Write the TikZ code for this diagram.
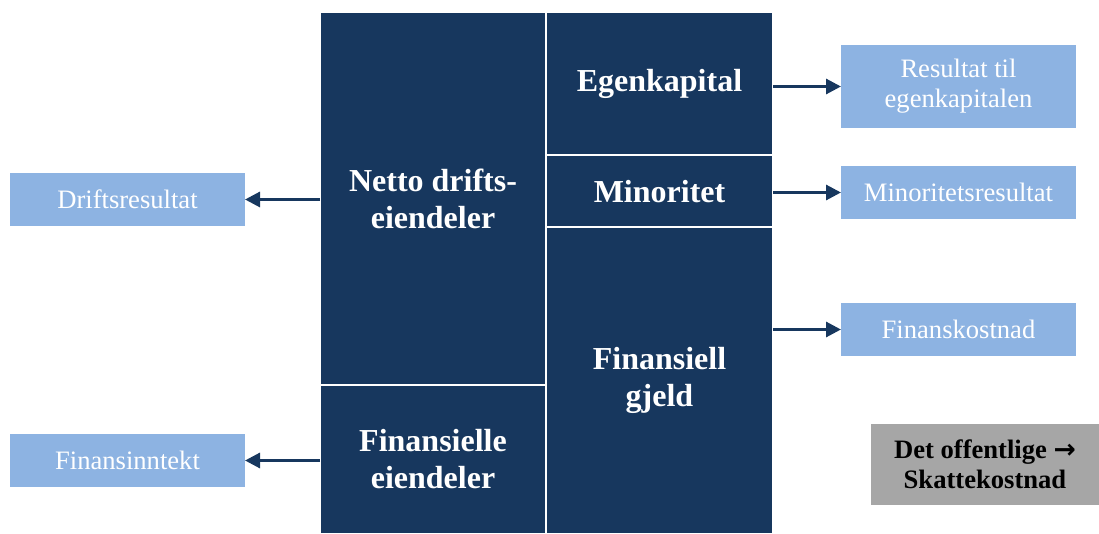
\documentclass[tikz,border=0pt]{standalone}
\usepackage{fontspec}
\setmainfont{Liberation Serif}
\newfontfamily\pilfont{DejaVu Sans}
\usepackage{tikz}
\definecolor{balNavy}{HTML}{17375E}
\definecolor{balLight}{HTML}{8DB3E2}
\definecolor{balGrey}{HTML}{A6A6A6}
\usetikzlibrary{arrows.meta}

\begin{document}
\begin{tikzpicture}[x=0.5pt,y=-0.5pt, every node/.style={inner sep=0pt, outer sep=0pt, align=center},
  blokk/.style={fill=balNavy, draw=white, line width=1pt, text=white, font=\fontsize{16}{18.5}\selectfont\bfseries},
  resbox/.style={fill=balLight, text=white, minimum width=117.5pt, minimum height=26.5pt, font=\fontsize{13.3}{15}\selectfont},
  pil/.style={-{Triangle[length=7.5pt,width=7.5pt]}, color=balNavy, line width=1.5pt}]
  \useasboundingbox (0,0) rectangle (1099,534);
  % balansen
  \node[blokk, minimum width=113pt, minimum height=186.5pt] (netto) at (433,198.5) {Netto drifts-\\eiendeler};
  \node[blokk, minimum width=113pt, minimum height=74.5pt] (finei) at (433,459.5) {Finansielle\\eiendeler};
  \node[blokk, minimum width=113.5pt, minimum height=71.75pt] (egen) at (659.5,83.75) {Egenkapital};
  \node[blokk, minimum width=113.5pt, minimum height=35.75pt] (minor) at (659.5,191.25) {Minoritet};
  \node[blokk, minimum width=113.5pt, minimum height=153.5pt] (gjeld) at (659.5,380.5) {Finansiell\\gjeld};
  % resultatposter
  \node[resbox, minimum height=41.5pt] (res) at (958.5,86.5) {Resultat til\\egenkapitalen};
  \node[resbox] (minres) at (958.5,192.5) {Minoritetsresultat};
  \node[resbox] (kost) at (958.5,329.5) {Finanskostnad};
  \node[resbox] (drift) at (127.5,199.5) {Driftsresultat};
  \node[resbox] (inntekt) at (127.5,460.5) {Finansinntekt};
  \node[fill=balGrey, minimum width=114pt, minimum height=40.5pt, font=\fontsize{13.3}{15}\selectfont\bfseries] (skatt) at (985,464.5) {Det offentlige {\pilfont\bfseries →}\\Skattekostnad};
  % piler
  \draw[pil] (egen.east |- res.west) -- (res.west);
  \draw[pil] (minor.east |- minres.west) -- (minres.west);
  \draw[pil] (gjeld.east |- kost.west) -- (kost.west);
  \draw[pil] (netto.west |- drift.east) -- (drift.east);
  \draw[pil] (finei.west |- inntekt.east) -- (inntekt.east);
\end{tikzpicture}
\end{document}
